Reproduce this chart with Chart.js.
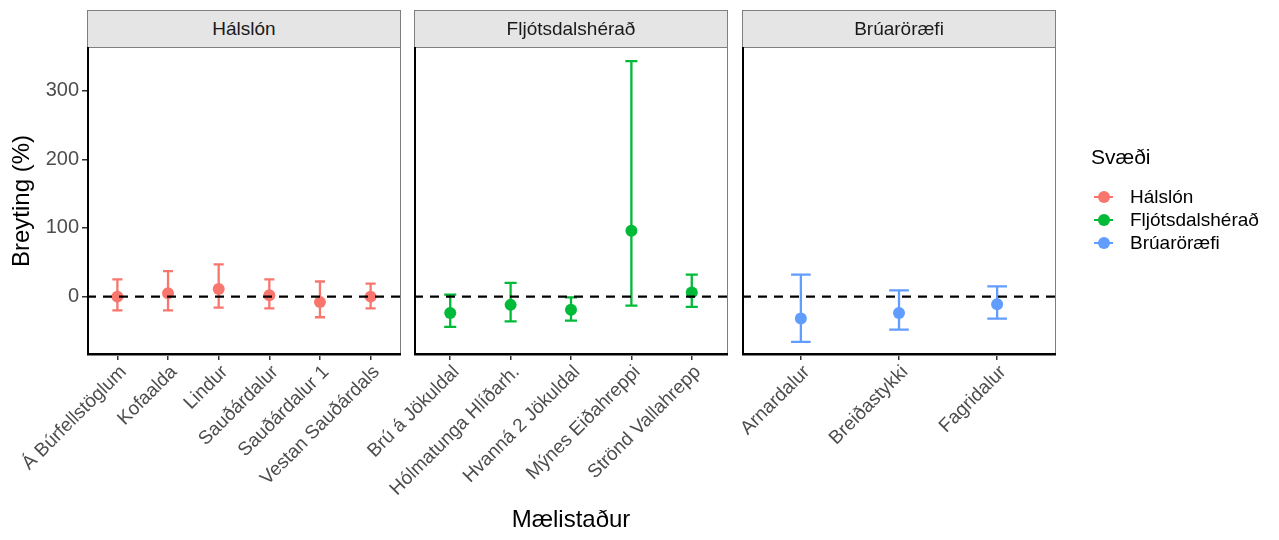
<!DOCTYPE html>
<html>
<head>
<meta charset="utf-8">
<script src="https://cdn.jsdelivr.net/npm/chart.js@4.4.1/dist/chart.umd.min.js"></script>
<style>
  body { margin: 0; background: #fff; font-family: "Liberation Sans", Arial, sans-serif; }
  #wrap { position: relative; width: 1279px; height: 540px; overflow: hidden; }
  canvas { position: absolute; left: 0; top: 0; }
  .strip { position: absolute; top: 10px; height: 37px; box-sizing: border-box; border: 1px solid #7f7f7f;
           border-bottom: none; background: #e5e5e5; color: #1a1a1a; font-size: 19px; line-height: 36px; text-align: center; }
  .leg-title { position: absolute; left: 1091px; top: 145px; font-size: 21px; color: #000; }
  .leg-item { position: absolute; left: 1094px; height: 22px; line-height: 22px; font-size: 19px; color: #000; }
  .leg-item .sym { position: absolute; left: 0; top: 10px; width: 19px; height: 2px; }
  .leg-item .dot { position: absolute; left: 3.5px; top: 5px; width: 12px; height: 12px; border-radius: 50%; }
  .leg-item span.txt { position: absolute; left: 36px; white-space: nowrap; }
</style>
</head>
<body>
<div id="wrap">
  <canvas id="c1" width="1279" height="540"></canvas>
  <canvas id="c2" width="1279" height="540"></canvas>
  <canvas id="c3" width="1279" height="540"></canvas>
  <div class="strip" style="left:87px;width:314px;">Hálslón</div>
  <div class="strip" style="left:414px;width:314px;">Fljótsdalshérað</div>
  <div class="strip" style="left:742px;width:314px;">Brúaröræfi</div>
  <div id="legend"></div>
</div>
<script>
// Gögn: meðaltal og öryggisbil fyrir hvert svæði
const halslonSites = ['Á Búrfellstöglum', 'Kofaalda', 'Lindur', 'Sauðárdalur', 'Sauðárdalur 1', 'Vestan Sauðárdals'];
const halslonMean = [0, 5, 11, 2, -8, 0];
const halslonLow = [-20, -20, -16, -17, -30, -17];
const halslonHigh = [25, 37, 47, 25, 22, 19];

const fljotSites = ['Brú á Jökuldal', 'Hólmatunga Hlíðarh.', 'Hvanná 2 Jökuldal', 'Mýnes Eiðahreppi', 'Strönd Vallahrepp'];
const fljotMean = [-24, -12, -19, 96, 6];
const fljotLow = [-44, -36, -35, -13, -15];
const fljotHigh = [3, 20, -1, 343, 32];

const bruarSites = ['Arnardalur', 'Breiðastykki', 'Fagridalur'];
const bruarMean = [-32, -24, -11];
const bruarLow = [-66, -48, -32];
const bruarHigh = [32, 9, 15];

const regions = ['Hálslón', 'Fljótsdalshérað', 'Brúaröræfi'];
const regionColors = ['#F8766D', '#00BA38', '#619CFF'];
const yTicks = [0, 100, 200, 300];

const W = 1279, H = 540;
const PLOT_TOP = 47, PLOT_BOTTOM = 355;

// Villustikur, núll-lína og rammi um hvern reit
const facetPlugin = {
    id: 'facet',
    beforeDatasetsDraw(chart) {
        const ctx = chart.ctx;
        const xs = chart.scales.x, ys = chart.scales.y;
        const half = (xs.getPixelForValue(0.1) - xs.getPixelForValue(0));
        chart.data.datasets.forEach(ds => {
            ctx.save();
            ctx.strokeStyle = ds.backgroundColor;
            ctx.lineWidth = 2.3;
            ds.data.forEach((p, j) => {
                const x = xs.getPixelForValue(p.x);
                const yl = ys.getPixelForValue(ds.low[j]);
                const yh = ys.getPixelForValue(ds.high[j]);
                ctx.beginPath();
                ctx.moveTo(x, yl); ctx.lineTo(x, yh);
                ctx.moveTo(x - half, yl); ctx.lineTo(x + half, yl);
                ctx.moveTo(x - half, yh); ctx.lineTo(x + half, yh);
                ctx.stroke();
            });
            ctx.restore();
        });
    },
    afterDatasetsDraw(chart) {
        const ctx = chart.ctx;
        const a = chart.chartArea;
        const y0 = chart.scales.y.getPixelForValue(0);
        ctx.save();
        ctx.strokeStyle = '#000';
        ctx.lineWidth = 2.2;
        ctx.setLineDash([9, 7]);
        ctx.beginPath();
        ctx.moveTo(a.left, y0); ctx.lineTo(a.right, y0);
        ctx.stroke();
        ctx.setLineDash([]);
        ctx.strokeStyle = '#7f7f7f';
        ctx.lineWidth = 1;
        ctx.strokeRect(a.left + 0.5, a.top + 0.5, a.right - a.left - 1, a.bottom - a.top);
        ctx.strokeStyle = '#000';
        ctx.lineWidth = 2;
        ctx.beginPath();
        ctx.moveTo(a.left + 1, a.top); ctx.lineTo(a.left + 1, a.bottom - 1);
        ctx.lineTo(a.right, a.bottom - 1);
        ctx.stroke();
        ctx.restore();
    }
};

const makeChart = (id, idx, sites, mean, low, high, left, right, showY, xTitle) => {
    const ctx = document.getElementById(id).getContext('2d');
    return new Chart(ctx, {
        type: 'scatter',
        data: {
            datasets: [{
                label: regions[idx],
                data: mean.map((v, i) => ({ x: i, y: v })),
                low: low,
                high: high,
                backgroundColor: regionColors[idx],
                borderWidth: 0,
                pointRadius: 6,
                pointHoverRadius: 6
            }]
        },
        options: {
            responsive: false,
            animation: false,
            events: [],
            layout: { padding: { left: showY ? 4 : left, right: W - right, top: PLOT_TOP, bottom: 1 } },
            plugins: { legend: { display: false }, tooltip: { enabled: false } },
            scales: {
                x: {
                    type: 'linear',
                    min: -0.6,
                    max: sites.length - 0.4,
                    afterBuildTicks: s => { s.ticks = sites.map((_, i) => ({ value: i })); },
                    afterFit: s => { s.height = H - 1 - PLOT_BOTTOM; },
                    grid: { drawOnChartArea: false, tickLength: 5, color: '#333', lineWidth: 1.5 },
                    border: { display: false },
                    ticks: {
                        autoSkip: false,
                        minRotation: 45,
                        maxRotation: 45,
                        padding: 1,
                        labelOffset: 6,
                        color: '#4d4d4d',
                        font: { family: 'Liberation Sans', size: 19 },
                        callback: v => sites[v] ?? ''
                    },
                    title: {
                        display: !!xTitle,
                        text: xTitle || '',
                        color: '#000',
                        font: { family: 'Liberation Sans', size: 24 },
                        padding: { top: 4, bottom: 4 }
                    }
                },
                y: {
                    min: -85,
                    max: 363.5,
                    afterBuildTicks: s => { s.ticks = yTicks.map(v => ({ value: v })); },
                    afterFit: s => { s.width = showY ? left - 4 : 0; },
                    grid: { drawOnChartArea: false, tickLength: showY ? 5 : 0, color: '#333', lineWidth: 1.5 },
                    border: { display: false },
                    ticks: {
                        display: showY,
                        padding: 3,
                        color: '#4d4d4d',
                        font: { family: 'Liberation Sans', size: 20 }
                    },
                    title: {
                        display: showY,
                        text: 'Breyting (%)',
                        color: '#000',
                        font: { family: 'Liberation Sans', size: 24 },
                        padding: { top: 4, bottom: 4 }
                    }
                }
            }
        },
        plugins: [facetPlugin]
    });
};

makeChart('c1', 0, halslonSites, halslonMean, halslonLow, halslonHigh, 87, 401, true, null);
makeChart('c2', 1, fljotSites, fljotMean, fljotLow, fljotHigh, 414, 728, false, 'Mælistaður');
makeChart('c3', 2, bruarSites, bruarMean, bruarLow, bruarHigh, 742, 1056, false, null);

// Skýringar (legend)
const legend = document.getElementById('legend');
legend.innerHTML = '<div class="leg-title">Svæði</div>';
regions.forEach((r, i) => {
    legend.innerHTML += `
        <div class="leg-item" style="top:${186 + i * 23}px">
            <div class="sym" style="background:${regionColors[i]}"></div>
            <div class="dot" style="background:${regionColors[i]}"></div>
            <span class="txt">${r}</span>
        </div>`;
});
</script>
</body>
</html>
